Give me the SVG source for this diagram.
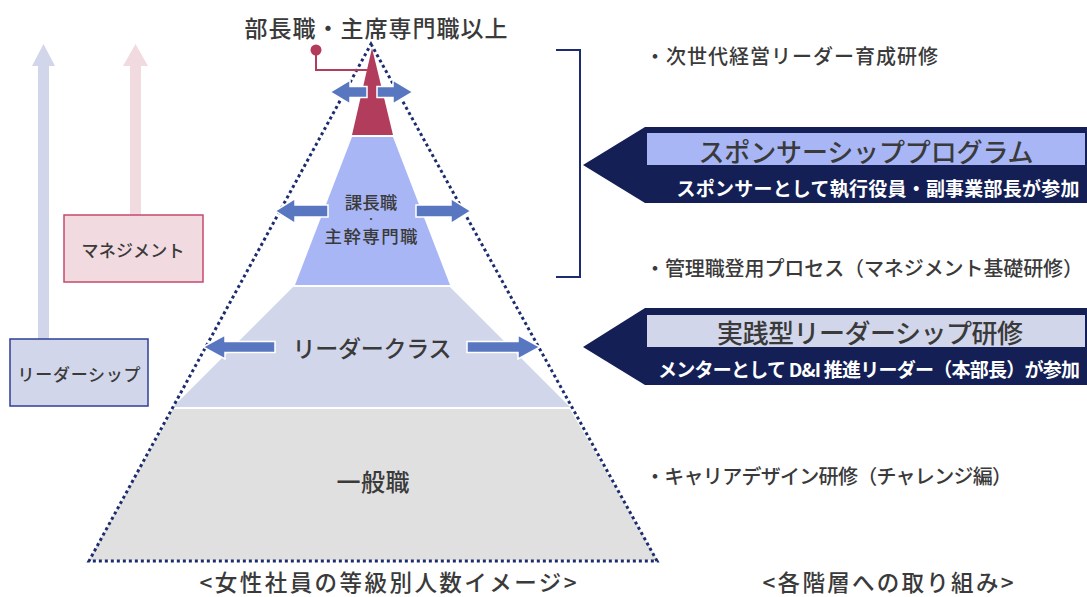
<svg xmlns="http://www.w3.org/2000/svg" width="1087" height="597" viewBox="0 0 1087 597">
<style>
text{font-family:"Noto Sans CJK JP","Noto Sans",sans-serif;fill:#3a3a3a;font-weight:500;dominant-baseline:central}
.c{text-anchor:middle}
.w{fill:#ffffff;font-weight:bold}
.barrow{fill:#5877c0;stroke:#ffffff;stroke-width:1.5}
.dot{fill:none;stroke:#1c2c6e;stroke-width:3;stroke-dasharray:3 3}
.navy{fill:#131f55}
</style>
<rect width="1087" height="597" fill="#ffffff"/>

<g id="pyramid">
  <polygon id="layer-general" points="173,409 570,409 657,560 89,560" fill="#e0e0e0"/>
  <polygon id="layer-leader" points="293,287 450,287 570,407 173,407" fill="#d1d6ea"/>
  <polygon id="layer-manager" points="352,137 393,137 450,285 295,285" fill="#a8b6f6"/>
  <polygon id="layer-top" points="372,48 393,135 352,135" fill="#b23c5c"/>
  <polygon class="dot" points="371,44 657,561 89,561"/>
</g>

<g id="top-label">
  <path d="M316,50 V70 H367" fill="none" stroke="#b23c5c" stroke-width="2"/>
  <circle cx="316" cy="50" r="5.5" fill="#b23c5c"/>
  <text class="c" x="376" y="27" font-size="23" textLength="263" lengthAdjust="spacing">部長職・主席専門職以上</text>
</g>

<g id="connectors">
  <polygon class="barrow" points="330,92 350,80 350,86.5 367,86.5 367,97.5 350,97.5 350,104"/>
  <polygon class="barrow" points="413,92 393,80 393,86.5 377,86.5 377,97.5 393,97.5 393,104"/>
  <polygon class="barrow" points="275,211 295,198.5 295,205 328,205 328,217 295,217 295,223.5"/>
  <polygon class="barrow" points="471,211 451,198.5 451,205 416,205 416,217 451,217 451,223.5"/>
  <polygon class="barrow" points="203,347 225,335 225,341.5 275,341.5 275,352.5 225,352.5 225,359"/>
  <polygon class="barrow" points="540,347 518,335 518,341.5 467,341.5 467,352.5 518,352.5 518,359"/>
  <rect x="38" y="64" width="11" height="275" fill="#d1d6ea"/>
  <polygon points="43.5,44 32,66 55,66" fill="#d1d6ea"/>
  <rect x="130" y="64" width="11" height="151" fill="#f1dae0"/>
  <polygon points="135.5,44 123,66 148,66" fill="#f1dae0"/>
  <path d="M556,50 H580 V277 H556" fill="none" stroke="#1c2c6e" stroke-width="2"/>
</g>

<g id="node-manager">
  <text class="c" x="371" y="201" font-size="17.5">課長職</text>
  <text class="c" x="371" y="218" font-size="9">・</text>
  <text class="c" x="371" y="235" font-size="17.5" textLength="93" lengthAdjust="spacing">主幹専門職</text>
</g>
<g id="node-leader">
  <text class="c" x="372" y="347" font-size="23" textLength="159" lengthAdjust="spacing">リーダークラス</text>
</g>
<g id="node-general">
  <text class="c" x="373" y="480" font-size="24" textLength="73" lengthAdjust="spacing">一般職</text>
</g>

<g id="box-leadership">
  <rect x="10" y="339" width="138" height="67" fill="#d1d6ea" stroke="#2e3f94" stroke-width="1.5"/>
  <text class="c" x="79" y="373" font-size="17" textLength="123" lengthAdjust="spacing">リーダーシップ</text>
</g>
<g id="box-management">
  <rect x="64" y="215" width="139" height="67" fill="#f1dae0" stroke="#c44a6e" stroke-width="1.5"/>
  <text class="c" x="133" y="249" font-size="17" textLength="103" lengthAdjust="spacing">マネジメント</text>
</g>

<g id="banner-sponsor">
  <polygon class="navy" points="583,165 645,127 1087,127 1087,203 645,203"/>
  <rect x="647" y="133" width="438" height="32" fill="#a8b6f6"/>
  <text class="c" x="866" y="150" font-size="26" textLength="335" lengthAdjust="spacing">スポンサーシッププログラム</text>
  <text class="c w" x="878" y="187" font-size="19" textLength="403" lengthAdjust="spacing">スポンサーとして執行役員・副事業部長が参加</text>
</g>
<g id="banner-practice">
  <polygon class="navy" points="583,347 645,308 1087,308 1087,385 645,385"/>
  <rect x="647" y="315" width="438" height="32" fill="#d1d6ea"/>
  <text class="c" x="870" y="331" font-size="26" textLength="306" lengthAdjust="spacing">実践型リーダーシップ研修</text>
  <text class="c w" x="869" y="368" font-size="19" textLength="422" lengthAdjust="spacing">メンターとして D&amp;I 推進リーダー（本部長）が参加</text>
</g>

<g id="right-texts">
  <text x="645" y="55" font-size="20" textLength="293" lengthAdjust="spacing">・次世代経営リーダー育成研修</text>
  <text x="645" y="267" font-size="20" textLength="438" lengthAdjust="spacing">・管理職登用プロセス（マネジメント基礎研修）</text>
  <text x="645" y="475" font-size="20" textLength="367" lengthAdjust="spacing">・キャリアデザイン研修（チャレンジ編）</text>
</g>

<g id="captions">
  <text class="c" x="388" y="581" font-size="22.5" textLength="377" lengthAdjust="spacing">&lt;女性社員の等級別人数イメージ&gt;</text>
  <text class="c" x="888" y="581" font-size="22.5" textLength="251" lengthAdjust="spacing">&lt;各階層への取り組み&gt;</text>
</g>
</svg>
